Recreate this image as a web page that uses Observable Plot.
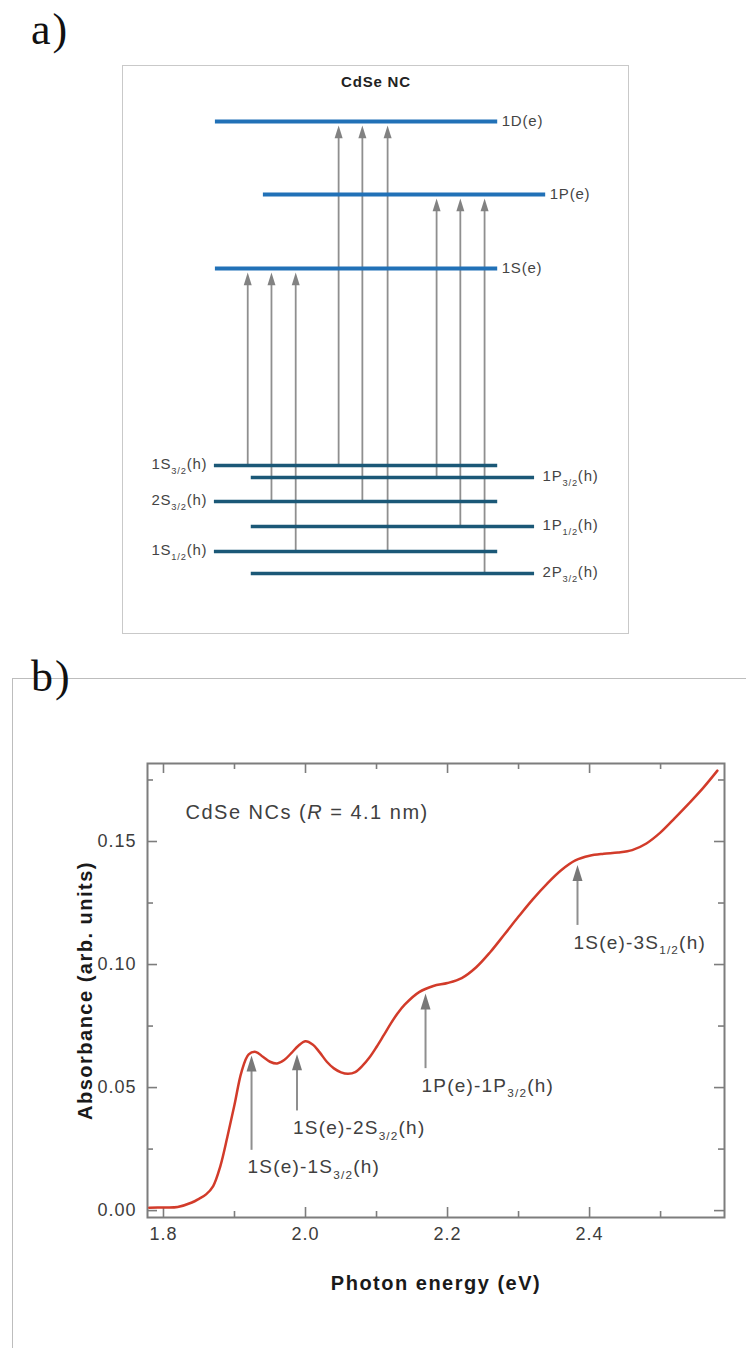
<!DOCTYPE html>
<html><head><meta charset="utf-8">
<script src="https://cdn.jsdelivr.net/npm/d3@7"></script>
<script src="https://cdn.jsdelivr.net/npm/@observablehq/plot@0.6"></script>
<style>
html,body{margin:0;padding:0;background:#fff;}
#page{position:relative;width:746px;height:1348px;overflow:hidden;font-family:"Liberation Sans",Arial,sans-serif;}
.plabel{position:absolute;font-family:"Liberation Serif","Times New Roman",serif;font-size:44px;line-height:1;color:#111;letter-spacing:2px;}
#la{left:31px;top:8px;}
#lb{left:31px;top:655px;}
#boxA{position:absolute;left:122px;top:65px;width:505px;height:567px;border:1px solid #c9c9c9;}
#boxB{position:absolute;left:12px;top:678px;width:734px;height:670px;border-top:1px solid #bdbdbd;border-left:1px solid #bdbdbd;}
#boxA svg,#boxB svg{display:block;}
</style></head>
<body><div id="page">
<div id="boxA"></div>
<div id="boxB"></div>
<div class="plabel" id="la">a)</div>
<div class="plabel" id="lb">b)</div>
</div>
<script>
// ---------- Panel a: energy levels (schematic units) ----------
const levelNames   = ["1D(e)","1P(e)","1S(e)","1S_{3/2}(h)","1P_{3/2}(h)","2S_{3/2}(h)","1P_{1/2}(h)","1S_{1/2}(h)","2P_{3/2}(h)"];
const levelEnergy  = [5.12, 4.39, 3.65, 1.68, 1.56, 1.32, 1.07, 0.82, 0.60];
const levelCarrier = ["e","e","e","h","h","h","h","h","h"];
const levelStart   = [18.2, 27.7, 18.2, 18.0, 25.3, 18.0, 25.3, 18.0, 25.3];
const levelEnd     = [74.1, 83.6, 74.1, 74.1, 81.4, 74.1, 81.4, 74.1, 81.4];
const labelSide    = ["right","right","right","left","right","left","right","left","right"];

const transFrom = ["1S_{3/2}(h)","2S_{3/2}(h)","1S_{1/2}(h)","1S_{3/2}(h)","2S_{3/2}(h)","1S_{1/2}(h)","1P_{3/2}(h)","1P_{1/2}(h)","2P_{3/2}(h)"];
const transTo   = ["1S(e)","1S(e)","1S(e)","1D(e)","1D(e)","1D(e)","1P(e)","1P(e)","1P(e)"];
const transX    = [24.6, 29.3, 34.1, 42.6, 47.3, 52.3, 62.0, 66.7, 71.5];

// ---------- Panel b: absorption spectrum ----------
const energy = [1.78,1.80,1.82,1.84,1.85,1.86,1.87,1.88,1.89,1.90,1.91,1.92,1.93,1.94,1.95,1.96,1.97,1.98,1.99,2.00,2.01,2.02,2.03,2.04,2.05,2.06,2.07,2.08,2.09,2.10,2.11,2.12,2.13,2.14,2.16,2.18,2.20,2.22,2.24,2.26,2.28,2.30,2.32,2.34,2.36,2.38,2.40,2.42,2.44,2.46,2.48,2.50,2.52,2.54,2.56,2.58];
const absorbance = [0.0012,0.0013,0.0015,0.0033,0.0048,0.0066,0.0100,0.0180,0.0300,0.0430,0.0565,0.0635,0.0645,0.0625,0.0605,0.0598,0.0612,0.0640,0.0670,0.0688,0.0675,0.0643,0.0605,0.0578,0.0562,0.0556,0.0563,0.0588,0.0622,0.0665,0.0712,0.0760,0.0803,0.0838,0.0888,0.0913,0.0925,0.0945,0.0988,0.1050,0.1122,0.1195,0.1265,0.1328,0.1383,0.1423,0.1442,0.1450,0.1455,0.1465,0.1492,0.1537,0.1595,0.1655,0.1718,0.1788];

const xMajor = [1.8, 2.0, 2.2, 2.4];
const xMinor = [1.9, 2.1, 2.3, 2.5];
const yMajor = [0.00, 0.05, 0.10, 0.15];
const yMinor = [0.025, 0.075, 0.125, 0.175];

const annLabels = ["1S(e)-1S_{3/2}(h)","1S(e)-2S_{3/2}(h)","1P(e)-1P_{3/2}(h)","1S(e)-3S_{1/2}(h)"];
const annX      = [1.924, 1.988, 2.169, 2.383];
const annTip    = [0.0630, 0.0635, 0.0882, 0.1405];
const annTail   = [0.0245, 0.0405, 0.0577, 0.1159];

const noteText = ["CdSe NCs (*R* = 4.1 nm)"];
const noteX = [1.831];
const noteY = [0.1618];

// ---------- helpers ----------
const head = {draw(ctx, size){ const r = Math.sqrt(size/Math.PI); ctx.moveTo(0,0); ctx.lineTo(0.5*r,1.6*r); ctx.lineTo(-0.5*r,1.6*r); ctx.closePath(); }};
function richify(svg, F){
  const NS = "http://www.w3.org/2000/svg";
  svg.querySelectorAll("text").forEach(t => {
    const s = t.textContent;
    if (!/[_*]/.test(s)) return;
    t.textContent = "";
    const re = /_\{([^}]*)\}|\*([^*]*)\*|([^_*]+)/g;
    let m, shifted = 0;
    while ((m = re.exec(s))) {
      const ts = document.createElementNS(NS, "tspan");
      if (m[1] != null) {
        ts.textContent = m[1];
        ts.setAttribute("font-size", (0.62*F) + "px");
        ts.setAttribute("dy", (0.3*F) + "px");
        shifted = 0.3*F;
      } else {
        ts.textContent = m[2] != null ? m[2] : m[3];
        if (m[2] != null) ts.setAttribute("font-style", "italic");
        if (shifted) { ts.setAttribute("dy", (-shifted) + "px"); shifted = 0; }
      }
      t.appendChild(ts);
    }
  });
}

// ---------- build panel a ----------
const levels = levelNames.map((n,i) => ({name:n, E:levelEnergy[i], c:levelCarrier[i], x1:levelStart[i], x2:levelEnd[i], side:labelSide[i]}));
const byName = Object.fromEntries(levels.map(d => [d.name, d]));
const trans = transX.map((x,i) => ({x, from: byName[transFrom[i]].E, to: byName[transTo[i]].E}));
const eColor = "#2171b7", hColor = "#1b5877", arrowGray = "#8f8f8f";

const plotA = Plot.plot({
  width: 505, height: 567, margin: 0,
  x: {domain: [0, 100], axis: null},
  y: {domain: [0, 5.67], axis: null},
  style: {fontFamily: "'Liberation Sans', Arial, sans-serif", fontSize: "15px", letterSpacing: "0.8px", background: "transparent", overflow: "visible"},
  marks: [
    Plot.ruleX(trans, {x: "x", y1: "to", y2: "from", insetTop: 12, stroke: arrowGray, strokeWidth: 1.8}),
    Plot.dot(trans, {x: "x", y: "to", symbol: head, r: 8, fill: "#828282", stroke: "none", dy: 4}),
    Plot.ruleY(levels.filter(d => d.c === "h"), {y: "E", x1: "x1", x2: "x2", stroke: hColor, strokeWidth: 3.4}),
    Plot.ruleY(levels.filter(d => d.c === "e"), {y: "E", x1: "x1", x2: "x2", stroke: eColor, strokeWidth: 4}),
    Plot.text(levels.filter(d => d.side === "right" && d.c === "e"), {x: "x2", y: "E", text: "name", textAnchor: "start", dx: 4, fill: "#444"}),
    Plot.text(levels.filter(d => d.side === "right" && d.c === "h"), {x: "x2", y: "E", text: "name", textAnchor: "start", dx: 8, dy: -1, fill: "#444"}),
    Plot.text(levels.filter(d => d.side === "left"), {x: "x1", y: "E", text: "name", textAnchor: "end", dx: -7, dy: -1, fill: "#444"}),
    Plot.text(["CdSe NC"], {frameAnchor: "top", text: d => d, lineAnchor: "middle", dy: 16, fontWeight: "bold", fontSize: 15, fill: "#222"})
  ]
});
richify(plotA, 15);
document.getElementById("boxA").appendChild(plotA);

// ---------- build panel b ----------
const W = 733, H = 669, mL = 134, mR = 22, mT = 84, mB = 131;
const fW = W - mL - mR, fH = H - mT - mB;
const axisGray = "#7d7d7d", textGray = "#3c3c3c";
const spectrum = energy.map((e,i) => ({e, a: absorbance[i]}));
const ann = annLabels.map((l,i) => ({label: l, x: annX[i], tip: annTip[i], tail: annTail[i]}));
const note = noteText.map((t,i) => ({t, x: noteX[i], y: noteY[i]}));

const plotB = Plot.plot({
  width: W, height: H, marginLeft: mL, marginRight: mR, marginTop: mT, marginBottom: mB,
  x: {domain: [1.7775, 2.59]},
  y: {domain: [-0.0028, 0.1817]},
  style: {fontFamily: "'Liberation Sans', Arial, sans-serif", fontSize: "18px", letterSpacing: "1px", background: "transparent", overflow: "visible", color: textGray},
  marks: [
    Plot.ruleX(xMajor, {x: d => d, insetTop: fH - 10, stroke: axisGray, strokeWidth: 1.6}),
    Plot.ruleX(xMinor, {x: d => d, insetTop: fH - 6, stroke: axisGray, strokeWidth: 1.6}),
    Plot.ruleX(xMajor, {x: d => d, insetBottom: fH - 10, stroke: axisGray, strokeWidth: 1.6}),
    Plot.ruleX(xMinor, {x: d => d, insetBottom: fH - 6, stroke: axisGray, strokeWidth: 1.6}),
    Plot.ruleY(yMajor, {y: d => d, insetRight: fW - 10, stroke: axisGray, strokeWidth: 1.6}),
    Plot.ruleY(yMinor, {y: d => d, insetRight: fW - 6, stroke: axisGray, strokeWidth: 1.6}),
    Plot.ruleY(yMajor, {y: d => d, insetLeft: fW - 10, stroke: axisGray, strokeWidth: 1.6}),
    Plot.ruleY(yMinor, {y: d => d, insetLeft: fW - 6, stroke: axisGray, strokeWidth: 1.6}),
    Plot.frame({stroke: axisGray, strokeWidth: 2}),
    Plot.axisX({ticks: xMajor, tickSize: 0, tickPadding: 10, tickFormat: d3.format(".1f"), fontSize: 18, color: textGray, label: null}),
    Plot.axisY({ticks: yMajor, tickSize: 0, tickPadding: 11, tickFormat: d3.format(".2f"), fontSize: 18, color: textGray, label: null}),
    Plot.line(spectrum, {x: "e", y: "a", stroke: "#d23b2a", strokeWidth: 2.5, curve: "catmull-rom"}),
    Plot.ruleX(ann, {x: "x", y1: "tip", y2: "tail", insetTop: 12, stroke: arrowGray, strokeWidth: 2}),
    Plot.dot(ann, {x: "x", y: "tip", symbol: head, r: 10, fill: "#787878", stroke: "none"}),
    Plot.text(ann, {x: "x", y: "tail", text: "label", textAnchor: "start", dx: -4, dy: 17, fontSize: 19, letterSpacing: 1.2, fill: "#404040"}),
    Plot.text(note, {x: "x", y: "y", text: "t", textAnchor: "start", fontSize: 20, fill: "#404040"}),
    Plot.text(["Photon energy (eV)"], {frameAnchor: "bottom", text: d => d, textAnchor: "middle", lineAnchor: "middle", dy: 66, fontWeight: "bold", fontSize: 20, fill: "#1a1a1a"}),
    Plot.text(["Absorbance (arb. units)"], {frameAnchor: "left", text: d => d, textAnchor: "middle", lineAnchor: "middle", rotate: -90, dx: -62, fontWeight: "bold", fontSize: 20, fill: "#1a1a1a"})
  ]
});
richify(plotB, 19);
// letter spacing per text group (style-level)
plotB.querySelectorAll("g[aria-label='text']").forEach((g, i) => {
  const t = g.querySelector("text");
  if (!t) return;
  const s = t.textContent;
  if (s.startsWith("CdSe")) g.setAttribute("letter-spacing", "1.5px");
  else if (s.startsWith("Photon") || s.startsWith("Absorbance")) g.setAttribute("letter-spacing", "1.5px");
  else g.setAttribute("letter-spacing", "1.2px");
});
document.getElementById("boxB").appendChild(plotB);
</script>
</body></html>
